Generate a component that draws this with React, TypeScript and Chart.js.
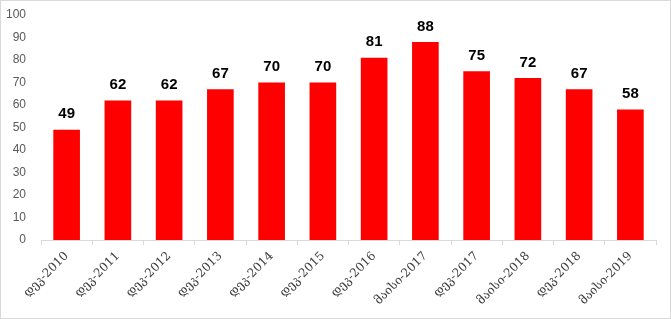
import React, { useEffect, useRef } from "react";
import { Chart, registerables } from "chart.js";

Chart.register(...registerables);

const categories = [
  "დეკ-2010", "დეკ-2011", "დეკ-2012", "დეკ-2013", "დეკ-2014", "დეკ-2015",
  "დეკ-2016", "მაისი-2017", "დეკ-2017", "მაისი-2018", "დეკ-2018", "მაისი-2019",
];
const values = [49, 62, 62, 67, 70, 70, 81, 88, 75, 72, 67, 58];
const yTicks = [0, 10, 20, 30, 40, 50, 60, 70, 80, 90, 100];

const borderPlugin = {
  id: "outerBorder",
  afterDraw(chart: any) {
    const { ctx, width, height } = chart;
    ctx.save();
    ctx.strokeStyle = "#d9d9d9";
    ctx.lineWidth = 1;
    ctx.strokeRect(0.5, 0.5, width - 1, height - 1);
    ctx.restore();
  },
};

const labelPlugin = {
  id: "valueLabels",
  afterDatasetsDraw(chart: any) {
    const { ctx } = chart;
    const meta = chart.getDatasetMeta(0);
    ctx.save();
    ctx.font = "bold 15px 'Liberation Sans', Arial, sans-serif";
    ctx.fillStyle = "#000";
    ctx.textAlign = "center";
    ctx.textBaseline = "bottom";
    meta.data.forEach((bar: any, i: number) => {
      ctx.fillText(String(values[i]), bar.x, bar.y - 8);
    });
    ctx.restore();
  },
};

export default function App() {
  const ref = useRef<HTMLCanvasElement>(null);
  useEffect(() => {
    document.body.style.margin = "0";
    const chart = new Chart(ref.current!, {
      type: "bar",
      data: {
        labels: categories,
        datasets: [
          {
            data: values,
            backgroundColor: "#ff0000",
            barPercentage: 0.52,
            categoryPercentage: 1,
          },
        ],
      },
      options: {
        animation: false,
        responsive: false,
        layout: { padding: { top: 15, right: 15, left: 0, bottom: 0 } },
        plugins: { legend: { display: false }, tooltip: { enabled: false } },
        scales: {
          x: {
            grid: {
              offset: true,
              drawOnChartArea: false,
              drawTicks: true,
              tickLength: 5,
              color: "#d9d9d9",
            },
            border: { color: "#d9d9d9" },
            ticks: {
              maxRotation: 45,
              minRotation: 45,
              color: "#404040",
              font: { family: "'DejaVu Serif', serif", size: 12 },
              padding: 4,
            },
            afterFit(scale: any) {
              scale.height = 79;
            },
          },
          y: {
            min: 0,
            max: 100,
            afterBuildTicks(scale: any) {
              scale.ticks = yTicks.map((v) => ({ value: v }));
            },
            grid: { display: false },
            border: { display: false },
            ticks: {
              color: "#595959",
              font: { family: "'Liberation Sans', Arial, sans-serif", size: 12 },
              padding: 7,
            },
            afterFit(scale: any) {
              scale.width = 41;
            },
          },
        },
      },
      plugins: [borderPlugin, labelPlugin],
    });
    return () => chart.destroy();
  }, []);
  return <canvas ref={ref} width={671} height={319} style={{ display: "block" }} />;
}
